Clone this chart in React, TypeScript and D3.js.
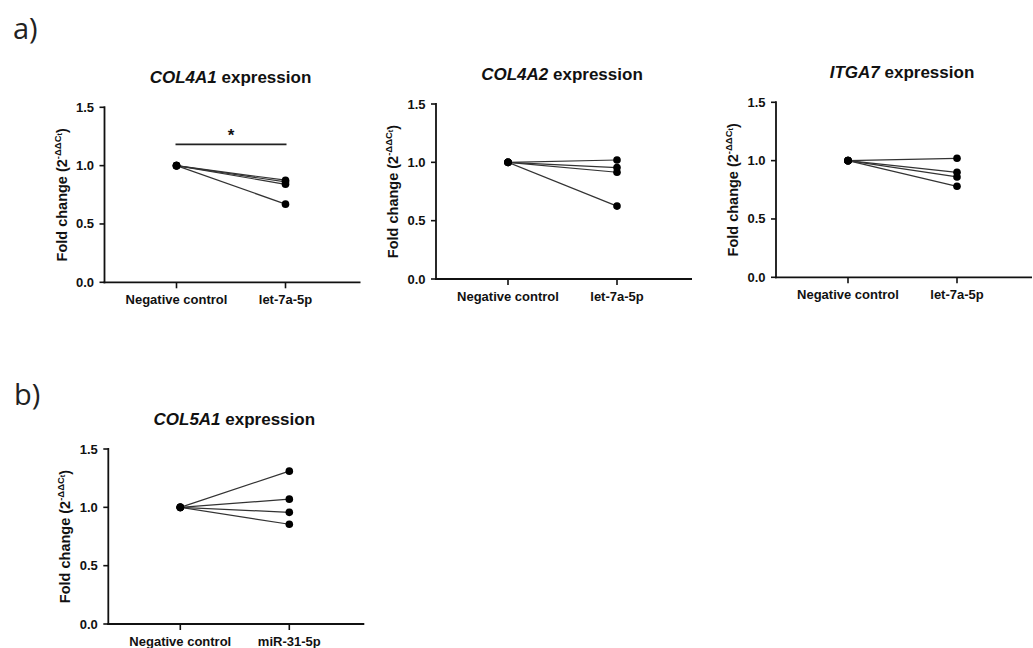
import React from "react";
import * as d3 from "d3";

// ---- data ----
const categoriesA = ["Negative control", "let-7a-5p"];
const categoriesB = ["Negative control", "miR-31-5p"];
const yTicks = [0, 0.5, 1.0, 1.5];
const yTickLabels = ["0.0", "0.5", "1.0", "1.5"];

const col4a1Control = [1, 1, 1, 1];
const col4a1Treated = [0.875, 0.86, 0.84, 0.67];
const col4a2Control = [1, 1, 1, 1];
const col4a2Treated = [1.02, 0.955, 0.915, 0.625];
const itga7Control = [1, 1, 1, 1];
const itga7Treated = [1.02, 0.9, 0.86, 0.78];
const col5a1Control = [1, 1, 1, 1];
const col5a1Treated = [1.31, 1.07, 0.957, 0.855];

const genes = ["COL4A1", "COL4A2", "ITGA7", "COL5A1"];

const FONT = "'Liberation Sans', Arial, sans-serif";

type PanelProps = {
  ox: number;
  oy: number;
  gene: string;
  cats: string[];
  control: number[];
  treated: number[];
  significant?: boolean;
};

function Panel({ ox, oy, gene, cats, control, treated, significant }: PanelProps) {
  const h = 175;
  const y = d3.scaleLinear().domain([0, 1.5]).range([oy, oy - h]);
  const x = d3.scalePoint<string>().domain(cats).range([ox + 72, ox + 181]);
  const xEnd = ox + 256;
  const line = d3
    .line<[string, number]>()
    .x((d) => x(d[0]) as number)
    .y((d) => y(d[1]));
  const pairs = control.map((c, i) => [
    [cats[0], c],
    [cats[1], treated[i]],
  ] as [string, number][]);
  return (
    <g fontFamily={FONT} fill="#111">
      {/* title */}
      <text x={ox + 126} y={oy - 199} textAnchor="middle" fontSize={17} fontWeight="bold">
        <tspan fontStyle="italic">{gene}</tspan>
        <tspan> expression</tspan>
      </text>
      {/* y axis */}
      <line x1={ox} x2={ox} y1={y(1.5) - 1} y2={oy + 1} stroke="#111" strokeWidth={1.8} />
      {yTicks.map((t, i) => (
        <g key={t}>
          <line x1={ox - 5} x2={ox} y1={y(t)} y2={y(t)} stroke="#111" strokeWidth={1.6} />
          <text x={ox - 10.5} y={y(t) + 4.5} textAnchor="end" fontSize={13} fontWeight="bold">
            {yTickLabels[i]}
          </text>
        </g>
      ))}
      {/* y label */}
      <text
        transform={`translate(${ox - 38},${oy - h / 2}) rotate(-90)`}
        textAnchor="middle"
        fontSize={14.5}
        fontWeight="bold"
      >
        Fold change (2
        <tspan fontSize={9.5} dy={-6}>-ΔΔC</tspan>
        <tspan fontSize={7.5} dy={1}>t</tspan>
        <tspan dy={5}>)</tspan>
      </text>
      {/* x axis */}
      <line x1={ox - 1} x2={xEnd} y1={oy} y2={oy} stroke="#111" strokeWidth={1.8} />
      {cats.map((c) => (
        <g key={c}>
          <line x1={x(c)} x2={x(c)} y1={oy} y2={oy + 6} stroke="#111" strokeWidth={1.6} />
          <text x={x(c)} y={oy + 22} textAnchor="middle" fontSize={13} fontWeight="bold">
            {c}
          </text>
        </g>
      ))}
      {/* paired lines */}
      {pairs.map((p, i) => (
        <path key={i} d={line(p) || ""} stroke="#333" strokeWidth={1.2} fill="none" />
      ))}
      {pairs.map((p, i) => (
        <g key={"d" + i}>
          <circle cx={x(p[0][0])} cy={y(p[0][1])} r={3.8} fill="#000" />
          <circle cx={x(p[1][0])} cy={y(p[1][1])} r={3.8} fill="#000" />
        </g>
      ))}
      {significant && (
        <g>
          <line
            x1={(x(cats[0]) as number) - 1}
            x2={(x(cats[1]) as number) + 1}
            y1={oy - 138}
            y2={oy - 138}
            stroke="#222"
            strokeWidth={1.8}
          />
          <text
            x={((x(cats[0]) as number) + (x(cats[1]) as number)) / 2}
            y={oy - 141}
            textAnchor="middle"
            fontSize={17}
            fontWeight="bold"
          >
            *
          </text>
        </g>
      )}
    </g>
  );
}

export default function App() {
  return (
    <svg
      width={1033}
      height={648}
      style={{ position: "absolute", left: 0, top: 0, background: "#fff" }}
    >
      <rect width={1033} height={648} fill="#fff" />
      <text x={13} y={39} fontFamily="'Open Sans', sans-serif" fontSize={29} fill="#222">
        a)
      </text>
      <text x={14} y={405} fontFamily="'Open Sans', sans-serif" fontSize={29} fill="#222">
        b)
      </text>
      <Panel ox={104.5} oy={282.3} gene={genes[0]} cats={categoriesA} control={col4a1Control} treated={col4a1Treated} significant />
      <Panel ox={436} oy={279} gene={genes[1]} cats={categoriesA} control={col4a2Control} treated={col4a2Treated} />
      <Panel ox={776} oy={277.3} gene={genes[2]} cats={categoriesA} control={itga7Control} treated={itga7Treated} />
      <Panel ox={108.3} oy={624} gene={genes[3]} cats={categoriesB} control={col5a1Control} treated={col5a1Treated} />
    </svg>
  );
}
